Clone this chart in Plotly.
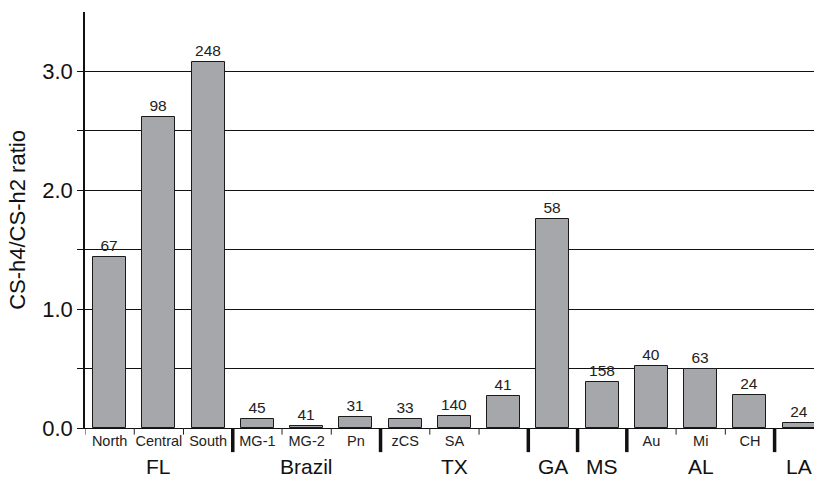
import plotly.graph_objects as go

# Sampling sites, their regions, CS-h4/CS-h2 ratios and sample counts
sites = ["North", "Central", "South", "MG-1", "MG-2", "Pn", "zCS", "SA", "", "",
         "", "Au", "Mi", "CH", ""]
regions = ["FL", "FL", "FL", "Brazil", "Brazil", "Brazil", "TX", "TX", "TX", "GA",
           "MS", "AL", "AL", "AL", "LA"]
ratios = [1.44, 2.62, 3.08, 0.073, 0.015, 0.095, 0.078, 0.10, 0.27, 1.76,
          0.39, 0.52, 0.50, 0.28, 0.042]
counts = [67, 98, 248, 45, 41, 31, 33, 140, 41, 58, 158, 40, 63, 24, 24]

FONT = "Liberation Sans, Arial, sans-serif"
idx = list(range(len(sites)))

fig = go.Figure()
fig.add_trace(go.Bar(
    x=idx, y=ratios, width=0.67,
    marker=dict(color="#a6a7ab", line=dict(color="#1a1a1a", width=1)),
    text=[str(c) for c in counts], textposition="outside",
    textfont=dict(family=FONT, size=15.5, color="#222"),
    cliponaxis=False,
))

shapes = []
# category boundary ticks: thin within a region, thick between regions
for i in range(len(sites)):
    left = i - 0.5
    if i == 0 or regions[i] == regions[i - 1]:
        shapes.append(dict(type="line", xref="x", yref="paper", x0=left, x1=left,
                           y0=0, y1=-0.016, line=dict(color="#222", width=1)))
    else:
        shapes.append(dict(type="line", xref="x", yref="paper", x0=left, x1=left,
                           y0=0, y1=-0.058, line=dict(color="#111", width=3.5)))

annotations = []
# region names centred under their sites
seen = []
for r in regions:
    if r not in seen:
        seen.append(r)
for r in seen:
    members = [i for i, g in enumerate(regions) if g == r]
    annotations.append(dict(x=sum(members) / len(members), y=-0.093, xref="x", yref="paper",
                            text=r, showarrow=False, yanchor="middle", borderpad=0,
                            font=dict(family=FONT, size=21, color="#111")))

yticks = [0, 0.5, 1.0, 1.5, 2.0, 2.5, 3.0]
fig.update_layout(
    width=814, height=481,
    margin=dict(l=85, r=0, t=12, b=53),
    plot_bgcolor="white", paper_bgcolor="white",
    showlegend=False, bargap=0,
    shapes=shapes, annotations=annotations,
    xaxis=dict(range=[-0.5, 14.3], tickvals=idx, ticktext=sites, ticks="",
               showgrid=False, showline=True, linecolor="#111", linewidth=1,
               tickfont=dict(family=FONT, size=14.5, color="#222"), zeroline=False),
    yaxis=dict(range=[0, 3.5], tickvals=yticks,
               ticktext=[f"{v:.1f}" if v == int(v) else "" for v in yticks],
               ticks="outside", ticklen=6, tickcolor="#111",
               showgrid=True, gridcolor="#111", gridwidth=1,
               showline=True, linecolor="#111", linewidth=1.5, zeroline=False,
               tickfont=dict(family=FONT, size=22, color="#111"),
               title=dict(text="CS-h4/CS-h2 ratio", standoff=11,
                          font=dict(family=FONT, size=22, color="#111"))),
)

fig.write_html("out.html")
